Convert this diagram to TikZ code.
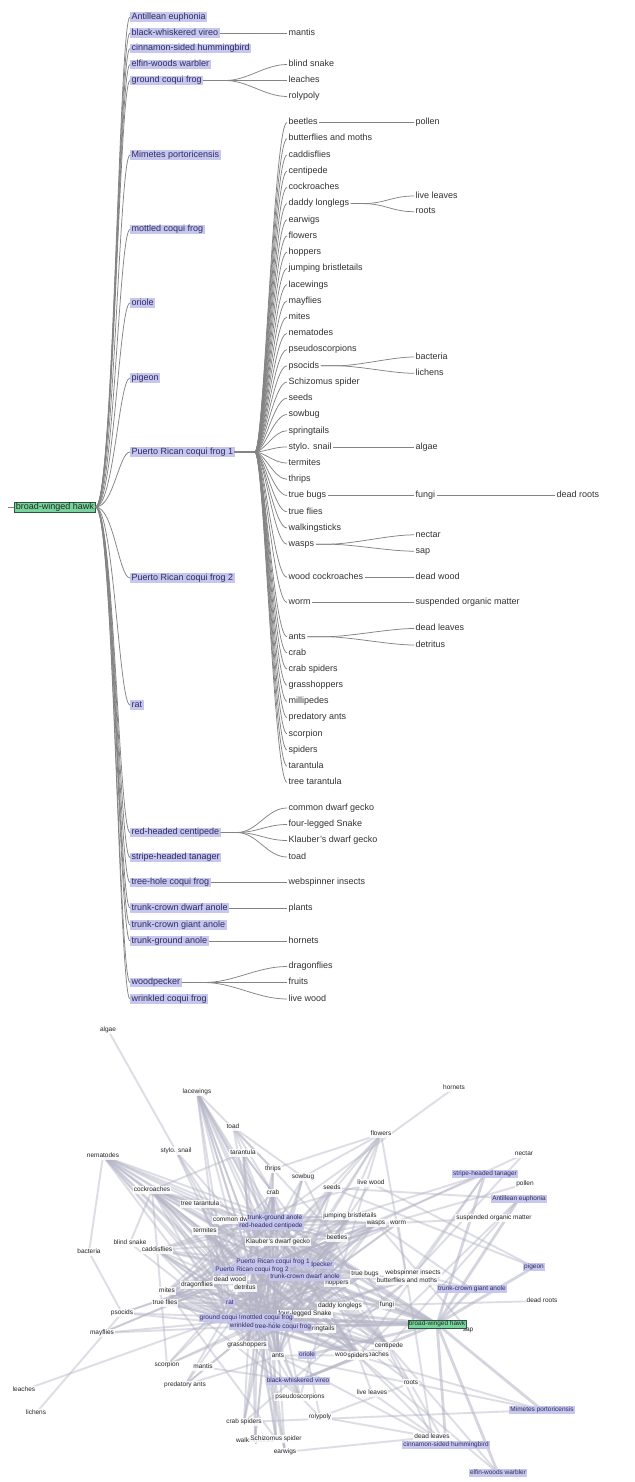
\documentclass[tikz,border=0pt]{standalone}
\usepackage{fontspec}
\setmainfont{Liberation Sans}
\usetikzlibrary{backgrounds}

\definecolor{lav}{RGB}{198,198,238}
\definecolor{hawkg}{RGB}{118,212,156}
\definecolor{hawkd}{RGB}{45,85,60}
\definecolor{treeline}{RGB}{132,132,132}
\definecolor{leaftext}{RGB}{50,50,50}
\definecolor{navytext}{RGB}{45,45,95}
\definecolor{webline}{RGB}{180,180,198}

\tikzset{
  treefont/.style={font=\fontsize{9}{10}\selectfont, text height=6.6pt, text depth=2pt, inner xsep=1.5pt, inner ysep=0.6pt, anchor=west},
  pred/.style={treefont, fill=lav, text=navytext},
  prey/.style={treefont, text=leaftext},
  hawkbox/.style={treefont, fill=hawkg, draw=hawkd, line width=0.6pt, text=black!85},
  branch/.style={draw=treeline, line width=0.75pt},
  netfont/.style={font=\fontsize{6.5}{7}\selectfont, text height=4.8pt, text depth=1.4pt, inner xsep=1pt, inner ysep=0.7pt},
  netprey/.style={netfont, fill=white, fill opacity=0.85, text opacity=1, text=black!85},
  netpred/.style={netfont, fill=lav, fill opacity=0.95, text opacity=1, text=navytext},
  nethawk/.style={netfont, fill=hawkg, draw=hawkd, line width=0.5pt, text=black!85},
  link/.style={draw=webline, line width=1.9pt, opacity=0.45, line cap=round},
  hawklink/.style={link, line width=2.8pt, opacity=0.55},
}

\begin{document}
\begin{tikzpicture}[x=1pt, y=-1pt]
\useasboundingbox (0,0) rectangle (634,1482);
\begin{pgfonlayer}{background}
  \fill[white] (0,0) rectangle (634,1482);
\end{pgfonlayer}

% ---------------- dendrogram: root ----------------
\node[hawkbox] (tBWH) at (14,507) {broad-winged hawk};
\coordinate (stub) at (8,507);
\draw[branch] (stub) -- (tBWH.west);

% predators of the hawk
\foreach \k/\py/\lab in {
  AE/17/Antillean euphonia, BWV/33/black-whiskered vireo,
  CSH/48.5/cinnamon-sided hummingbird, EWW/64.5/elfin-woods warbler,
  GCF/80.5/ground coqui frog, MP/155/Mimetes portoricensis,
  MCF/229.5/mottled coqui frog, OR/303/oriole, PG/378/pigeon,
  PR1/452/Puerto Rican coqui frog 1, PR2/578/Puerto Rican coqui frog 2,
  RAT/705/rat, RHC/832.5/red-headed centipede, SHT/857.5/stripe-headed tanager,
  THC/882.5/tree-hole coqui frog, TCDA/908/trunk-crown dwarf anole,
  TCGA/925/trunk-crown giant anole, TGA/941/trunk-ground anole,
  WP/982.5/woodpecker, WCF/999/wrinkled coqui frog}{
  \node[pred] (t\k) at (130,\py) {\lab};
  \draw[branch] (tBWH.east) .. controls +(18,0) and +(-11,0) .. (t\k.west);
}

% prey of Puerto Rican coqui frog 1
\foreach \k/\py/\lab in {
  beet/122.5/beetles, butt/138.7/butterflies and moths, cadd/154.9/caddisflies,
  cent/171.2/centipede, cock/187.4/cockroaches, daddy/203.6/daddy longlegs,
  ear/219.8/earwigs, flow/236/flowers, hop/252.3/hoppers,
  jump/268.5/jumping bristletails, lace/284.7/lacewings, may/300.9/mayflies,
  mite/317.1/mites, nema/333.4/nematodes, pseu/349.6/pseudoscorpions,
  psoc/365.8/psocids, schi/382/Schizomus spider, seed/398.2/seeds,
  sow/414.5/sowbug, spring/430.7/springtails, stylo/446.9/stylo. snail,
  term/463.1/termites, thrip/479.3/thrips, tbug/495.5/true bugs,
  tfly/511.8/true flies, walk/528/walkingsticks, wasp/544.2/wasps,
  wcock/577.3/wood cockroaches, worm/602.5/worm, ant/636.7/ants,
  crab/652.8/crab, crabsp/669/crab spiders, grass/685.2/grasshoppers,
  milli/701.4/millipedes, predant/717.6/predatory ants, scorp/733.8/scorpion,
  spid/750/spiders, tar/766.2/tarantula, ttar/782.4/tree tarantula}{
  \node[prey] (u\k) at (287,\py) {\lab};
  \draw[branch] (tPR1.east) -- ++(20,0) .. controls +(9,0) and +(-13,0) .. (u\k.west);
}

% other second-level prey
\node[prey] (umantis) at (287,33) {mantis};
\draw[branch] (tBWV.east) -- (umantis.west);
\foreach \k/\py/\lab in {blind/64.5/blind snake, leach/80.5/leaches, roly/96.5/rolypoly}{
  \node[prey] (u\k) at (287,\py) {\lab};
  \draw[branch] (tGCF.east) -- ++(22,0) .. controls +(22,0) and +(-22,0) .. (u\k.west);
}
\foreach \k/\py/\lab in {cdg/808/common dwarf gecko, fls/824.5/four-legged Snake,
  kdg/840.5/Klauber's dwarf gecko, toad/857/toad}{
  \node[prey] (u\k) at (287,\py) {\lab};
  \draw[branch] (tRHC.east) -- ++(16,0) .. controls +(20,0) and +(-20,0) .. (u\k.west);
}
\node[prey] (uweb) at (287,882.5) {webspinner insects};
\draw[branch] (tTHC.east) -- (uweb.west);
\node[prey] (uplants) at (287,908) {plants};
\draw[branch] (tTCDA.east) -- (uplants.west);
\node[prey] (uhorn) at (287,941) {hornets};
\draw[branch] (tTGA.east) -- (uhorn.west);
\foreach \k/\py/\lab in {drag/966.5/dragonflies, fruit/982.5/fruits, lwood/999/live wood}{
  \node[prey] (u\k) at (287,\py) {\lab};
  \draw[branch] (tWP.east) -- ++(22,0) .. controls +(30,0) and +(-30,0) .. (u\k.west);
}

% third level
\node[prey] (vpollen) at (414,122.5) {pollen};
\draw[branch] (ubeet.east) -- (vpollen.west);
\foreach \k/\py/\lab in {lleaf/196/live leaves, roots/211.7/roots}{
  \node[prey] (v\k) at (414,\py) {\lab};
  \draw[branch] (udaddy.east) -- ++(12,0) .. controls +(22,0) and +(-22,0) .. (v\k.west);
}
\foreach \k/\py/\lab in {bact/357/bacteria, lich/373.3/lichens}{
  \node[prey] (v\k) at (414,\py) {\lab};
  \draw[branch] (upsoc.east) -- ++(16,0) .. controls +(22,0) and +(-22,0) .. (v\k.west);
}
\node[prey] (valgae) at (414,446.9) {algae};
\draw[branch] (ustylo.east) -- (valgae.west);
\node[prey] (vfungi) at (414,495.5) {fungi};
\draw[branch] (utbug.east) -- (vfungi.west);
\node[prey] (vdroots) at (555,495.5) {dead roots};
\draw[branch] (vfungi.east) -- (vdroots.west);
\foreach \k/\py/\lab in {nectar/534.8/nectar, sap/551.2/sap}{
  \node[prey] (v\k) at (414,\py) {\lab};
  \draw[branch] (uwasp.east) -- ++(12,0) .. controls +(25,0) and +(-25,0) .. (v\k.west);
}
\node[prey] (vdwood) at (414,577.3) {dead wood};
\draw[branch] (uwcock.east) -- (vdwood.west);
\node[prey] (vsom) at (414,602.5) {suspended organic matter};
\draw[branch] (uworm.east) -- (vsom.west);
\foreach \k/\py/\lab in {dleaf/628.5/dead leaves, detr/645/detritus}{
  \node[prey] (v\k) at (414,\py) {\lab};
  \draw[branch] (uant.east) -- ++(18,0) .. controls +(25,0) and +(-25,0) .. (v\k.west);
}

% ---------------- food-web graph ----------------
\foreach \k/\px/\py/\lab in {
  algae/108/1030/algae, lace/197/1092/lacewings, horn/454/1088/hornets,
  toad/233/1127/toad, flow/381/1134/flowers, stylo/176/1151/stylo. snail,
  tar/243/1153/tarantula, nema/103/1156/nematodes, nectar/524/1154/nectar,
  thrip/273/1169/thrips, sow/303/1177/sowbug, lwood/371/1183/live wood,
  pollen/525/1184/pollen, seed/332/1188/seeds, cock/152/1190/cockroaches,
  crab/273/1193/crab, ttar/200/1204/tree tarantula, jump/350/1216/jumping bristletails,
  som/494/1218/suspended organic matter, cdg/244/1220/common dwarf gecko,
  wasp/376/1223/wasps, worm/398/1223/worm, term/205/1231/termites,
  beet/337/1238/beetles, kdg/278/1242/Klauber's dwarf gecko, blind/130/1243/blind snake,
  cadd/157/1250/caddisflies, bact/89/1252/bacteria, tbug/365/1274/true bugs,
  web/413/1273/webspinner insects, dwood/230/1280/dead wood, butt/407/1281/butterflies and moths,
  hop/337/1283/hoppers, drag/197/1285/dragonflies, detr/245/1288/detritus,
  mite/167/1291/mites, droots/542/1301/dead roots, tfly/165/1303/true flies,
  fungi/387/1305/fungi, daddy/340/1306/daddy longlegs, psoc/122/1313/psocids,
  fls/305/1314/four-legged Snake, spring/320/1329/springtails, sap/468/1330/sap,
  may/102/1333/mayflies, grass/247/1345/grasshoppers, cent/389/1346/centipede,
  wcock/362/1355/wood cockroaches, ant/278/1356/ants, spid/358/1356/spiders,
  scorp/167/1365/scorpion, mantis/203/1367/mantis, roots/411/1383/roots,
  predant/185/1385/predatory ants, leach/24/1390/leaches, lleaf/372/1393/live leaves,
  pseu/300/1397/pseudoscorpions, lich/36/1413/lichens, roly/320/1417/rolypoly,
  crabsp/244/1422/crab spiders, dleaf/432/1437/dead leaves, walk/255/1441/walkingsticks,
  schi/276/1439/Schizomus spider, ear/285/1452/earwigs}{
  \node[netprey] (w\k) at (\px,\py) {\lab};
}
\foreach \k/\px/\py/\lab in {
  SHT/485/1174/stripe-headed tanager, AE/519/1199/Antillean euphonia,
  TGA/275/1218/trunk-ground anole, RHC/271/1226/red-headed centipede,
  WP/315/1265/woodpecker, PG/534/1267/pigeon,
  PR2/252/1270/Puerto Rican coqui frog 2, PR1/273/1262/Puerto Rican coqui frog 1,
  TCDA/305/1277/trunk-crown dwarf anole, TCGA/472/1289/trunk-crown giant anole,
  RAT/230/1303/rat, GCF/225/1318/ground coqui frog, MCF/267/1318/mottled coqui frog,
  WCF/257/1326/wrinkled coqui frog, THC/283/1327/tree-hole coqui frog,
  OR/307/1355/oriole, BWV/298/1381/black-whiskered vireo,
  MP/542/1410/Mimetes portoricensis, CSH/446/1445/cinnamon-sided hummingbird,
  EWW/498/1473/elfin-woods warbler}{
  \node[netpred] (w\k) at (\px,\py) {\lab};
}
\node[nethawk] (wBWH) at (437,1324) {broad-winged hawk};

\begin{pgfonlayer}{background}
  % the hawk and what it eats
  \foreach \q in {AE,BWV,CSH,EWW,GCF,MP,MCF,OR,PG,PR1,PR2,RAT,RHC,SHT,THC,TCDA,TCGA,TGA,WP,WCF}
    \draw[hawklink] (wBWH.center) -- (w\q.center);
  % frogs feeding on the invertebrates
  \foreach \p in {PR1,PR2,MCF,WCF}
    \foreach \q in {beet,butt,cadd,cent,cock,daddy,ear,flow,hop,jump,lace,may,mite,nema,
                    pseu,psoc,schi,seed,sow,spring,stylo,term,thrip,tbug,tfly,walk,wasp,
                    wcock,worm,ant,crab,crabsp,grass,predant,scorp,spid,tar,ttar}
      \draw[link] (w\p.center) -- (w\q.center);
  % other generalist predators of the understorey
  \foreach \p in {RAT,GCF,THC,TGA,TCDA,RHC,kdg,cdg,fls}
    \foreach \q in {beet,cock,cent,crab,spid,ant,grass,term,hop,jump,lace,nema,tbug,wasp,
                    cadd,mite,tfly,drag}
      \draw[link] (w\p.center) -- (w\q.center);
  % single feeding links
  \foreach \p/\q in {BWV/mantis, GCF/blind, GCF/leach, GCF/roly, beet/pollen, daddy/lleaf,
      daddy/roots, psoc/bact, psoc/lich, stylo/algae, tbug/fungi, fungi/droots, wasp/nectar,
      wasp/sap, wcock/dwood, worm/som, ant/dleaf, ant/detr, RHC/toad, THC/web, TGA/horn,
      WP/lwood, term/dwood, cock/detr, cock/blind, nema/bact, mite/fungi, spring/fungi,
      spring/detr, butt/nectar, butt/flow, thrip/flow, hop/flow, beet/flow, sow/flow,
      lace/thrip, toad/beet, toad/ant, toad/crab, toad/sow, tar/cock, tar/crab, tar/cent,
      ttar/cock, AE/spid, AE/cent, AE/seed, SHT/butt, SHT/spid, SHT/jump, SHT/beet,
      MP/spid, MP/ant, MP/crabsp, EWW/cent, EWW/spid, CSH/spid, CSH/cent, CSH/lleaf,
      PG/seed, PG/lwood, TCGA/butt, TCGA/tbug, TCGA/wasp, TCGA/web, OR/spid, OR/butt,
      OR/ant, OR/roly, WP/beet, WP/ant, sow/dleaf, roly/dleaf, roly/roots, ear/dleaf,
      schi/mite, crabsp/butt, predant/ant, scorp/cock, nema/roots, worm/dleaf, worm/detr,
      ant/seed, term/lwood, pseu/mite, pseu/spring, BWV/spid, BWV/cent}
    \draw[link] (w\p.center) -- (w\q.center);
\end{pgfonlayer}
\end{tikzpicture}
\end{document}
